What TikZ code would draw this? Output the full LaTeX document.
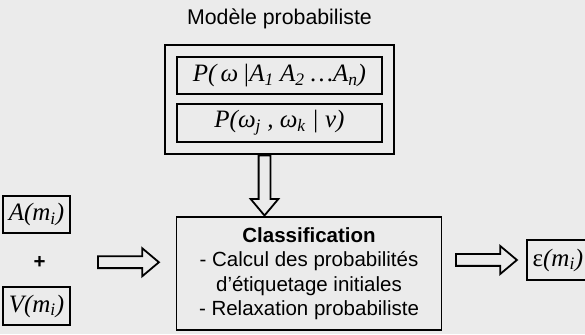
\documentclass[tikz,border=0pt]{standalone}
\usepackage{fontspec}
\setmainfont{Liberation Sans}
\newfontfamily\tms{Liberation Serif}
\usetikzlibrary{positioning,fit,calc,shapes.arrows}

\begin{document}
\begin{tikzpicture}[x=1pt, y=1pt,
  bx/.style={draw=black, line width=1.8pt, inner sep=0pt, align=center},
  lbl/.style={font=\fontsize{20.5pt}{24.5pt}\selectfont},
  hdr/.style={font=\fontsize{21.3pt}{25pt}\selectfont},
  mth/.style={font=\fontsize{25pt}{30pt}\selectfont\tms\itshape},
  frm/.style={bx, mth, minimum width=205pt},
  var/.style={bx, mth, minimum width=67pt},
  harrow/.style={single arrow, draw=black, line width=1.8pt, inner sep=5pt,
            single arrow head extend=8pt, single arrow tip angle=80, minimum height=61pt}]
\fill[black!8] (0,0) rectangle (585,334);
\useasboundingbox (0,0) rectangle (585,334);
\node[frm, minimum height=37pt] (p1) at (279.5,258.5) {P(\,ω\,|A\textsubscript{1} A\textsubscript{2} …A\textsubscript{n})};
\node[frm, minimum height=38pt, below=8pt of p1] (p2) {P(ω\textsubscript{j} , ω\textsubscript{k} | ν)};
\node[bx, fit=(p1)(p2), inner sep=11pt] (M) {};
\node[hdr, anchor=base] (ttl) at ($(M.north)+(0,20)$) {Modèle probabiliste};
\node[bx, lbl, minimum width=265pt, minimum height=113pt] (cls) at (309,60.5)
  {\textbf{Classification}\\- Calcul des probabilités\\d’étiquetage initiales\\- Relaxation probabiliste};
\node[var, minimum height=37pt] (A) at (36.5,119.5) {A(m\textsubscript{i})};
\node[var, minimum height=38pt] (V) at (36.5,28) {V(m\textsubscript{i})};
\node[lbl] (pl) at ($(A)!0.5!(V)+(3,-2)$) {\textbf{+}};
\node[bx, mth, minimum width=62pt, minimum height=40pt, anchor=west] (E) at (526,74) {{\upshape ε}(m\textsubscript{i})};
\node[harrow, minimum height=60pt, rotate=-90, anchor=tail] (a1) at ($(M.south)+(-15,0)$) {};
\node[harrow, anchor=tail] (a2) at ($(pl)+(57.5,0)$) {};
\node[harrow, anchor=tail] (a3) at ($(E.west)+(-71,0)$) {};
\end{tikzpicture}
\end{document}
